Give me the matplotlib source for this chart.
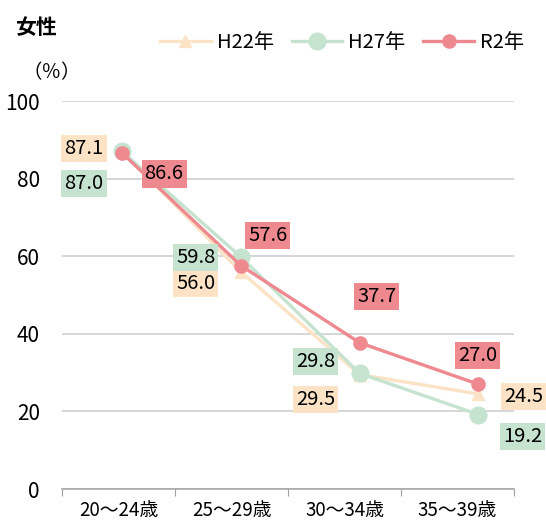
import matplotlib
matplotlib.use("Agg")
import matplotlib.pyplot as plt

plt.rcParams['font.family'] = ['Noto Sans CJK JP', 'DejaVu Sans']

# data
categories = ["20～24歳", "25～29歳", "30～34歳", "35～39歳"]
series_names = ["H22年", "H27年", "R2年"]
h22 = [87.1, 56.0, 29.5, 24.5]
h27 = [87.0, 59.8, 29.8, 19.2]
r2 = [86.6, 57.6, 37.7, 27.0]

colors = ["#FDE3C6", "#C5E3CF", "#EF8990"]
markers = ["^", "o", "o"]
msizes = [9, 12, 9.5]

# label offsets in pixels (dx, dy) from each point
offsets = [
    [(-38, 3), (-45, -12), (-44, -25), (45, -3)],
    [(-38, -32), (-45, -1), (-44, 12), (44, -22)],
    [(42, -21), (27, 30), (17, 46), (-1, 29)],
]

fig = plt.figure(figsize=(5.46, 5.29), dpi=100)
ax = fig.add_axes([62 / 546, 40 / 529, 452 / 546, 388 / 529])

# category axis
ax.set_xlim(-0.5, 3.5)
ax.set_ylim(0, 100)
ax.set_xticks([-0.5, 0.5, 1.5, 2.5, 3.5])
ax.set_xticklabels([])
ax.set_xticks(range(4), minor=True)
ax.set_xticklabels(categories, minor=True, fontsize=13.5)
ax.tick_params(axis='x', which='major', length=5, color='#a0a0a0', direction='out')
ax.tick_params(axis='x', which='minor', length=0, pad=8)
ax.set_yticks(range(0, 101, 20))
ax.tick_params(axis='y', length=0, labelsize=15, pad=16)
ax.yaxis.grid(True, color='#cfcfcf', linewidth=1.2)
ax.set_axisbelow(True)
for s in ['left', 'right', 'top']:
    ax.spines[s].set_visible(False)
ax.spines['bottom'].set_color('#a8a8a8')
ax.spines['bottom'].set_linewidth(1.2)

# lines drawn on a second category axis (shifted like the original)
ax2 = ax.twiny()
ax2.set_xlim(-0.5055, 3.30)
ax2.set_xticks([])
for s in ax2.spines.values():
    s.set_visible(False)

xs = range(len(categories))
all_vals = [h22, h27, r2]
for vals, name, c, m, ms in zip(all_vals, series_names, colors, markers, msizes):
    ax2.plot(xs, vals, color=c, marker=m, markersize=ms, linewidth=2.4, label=name)

for vals, c, offs in zip(all_vals, colors, offsets):
    for x, v, (dx, dy) in zip(xs, vals, offs):
        ax2.annotate(f"{v:.1f}", (x, v), xytext=(dx * 0.72, dy * 0.72),
                     textcoords='offset points', ha='center', va='center',
                     fontsize=14.5, color='black',
                     bbox=dict(boxstyle='square,pad=0.15', fc=c, ec='none'))

fig.text(15 / 546, 1 - 28 / 529, "女性", fontsize=15, fontweight='bold', va='center')
fig.text(22 / 546, 1 - 73 / 529, "（％）", fontsize=14, va='center')

leg = ax2.legend(loc='center', bbox_to_anchor=(342 / 546, 1 - 43 / 529),
                 bbox_transform=fig.transFigure, ncol=3, frameon=False,
                 fontsize=14.5, handlelength=2.5, handletextpad=0.3,
                 columnspacing=0.9)

fig.savefig("out.png", dpi=100)
